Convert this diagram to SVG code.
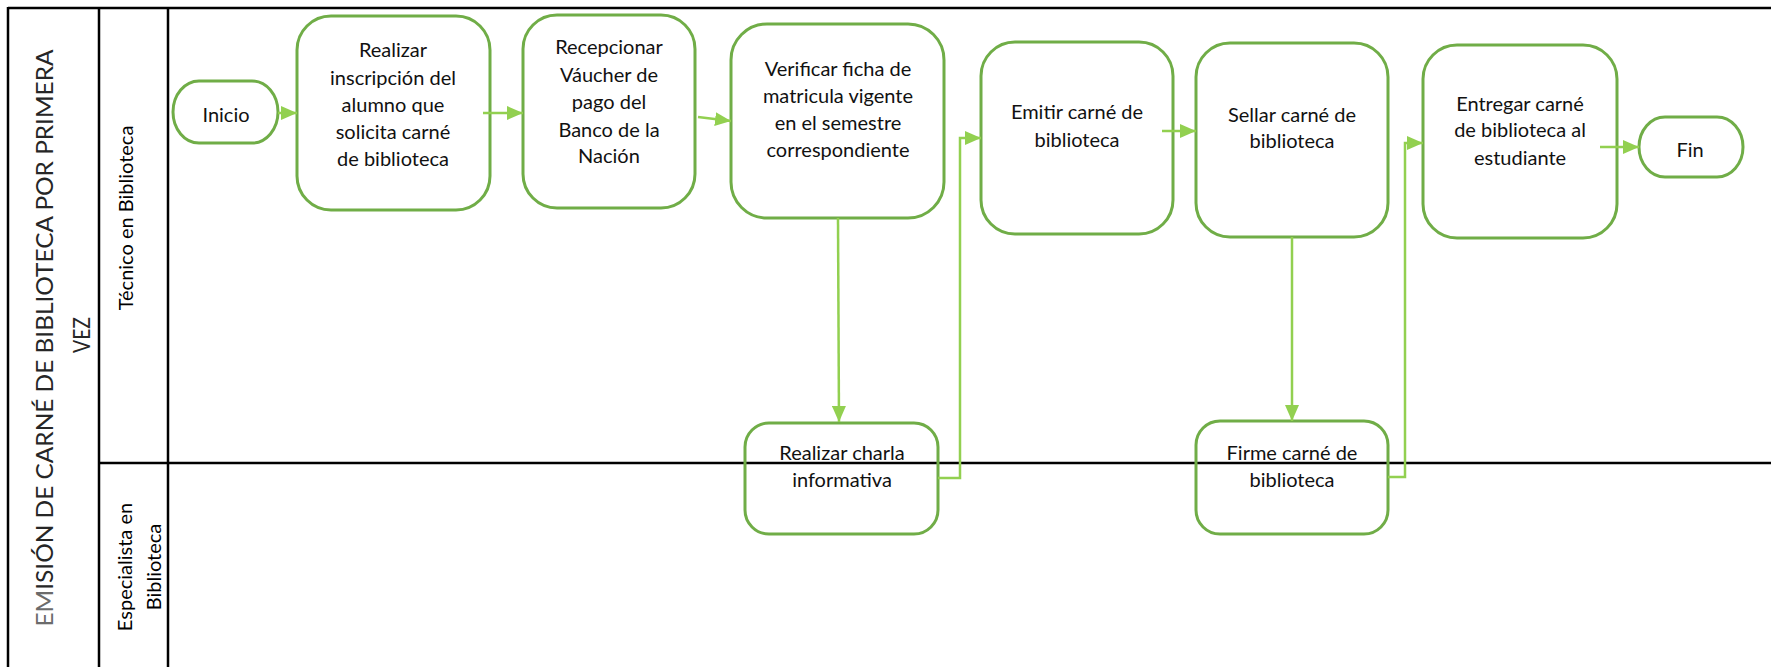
<svg xmlns="http://www.w3.org/2000/svg" width="1771" height="667" viewBox="0 0 1771 667">
<style>
.lane{stroke:#000;stroke-width:2.5;fill:none}
.box{fill:none;stroke:#70AD47;stroke-width:3}
.t{font-family:Lato,"Open Sans","Liberation Sans",sans-serif;font-size:20px;fill:#111;text-anchor:middle}
.lbl{font-family:Lato,"Open Sans","Liberation Sans",sans-serif;font-size:20px;fill:#000;text-anchor:middle}
.title{font-family:Lato,"Open Sans","Liberation Sans",sans-serif;font-size:24px;font-weight:400;fill:#262626;text-anchor:middle}
.c{fill:none;stroke:#92D050;stroke-width:2.5}
</style>
<defs>
<marker id="ah" viewBox="0 0 16 14" refX="16" refY="7" markerWidth="16" markerHeight="14" markerUnits="userSpaceOnUse" orient="auto">
<path d="M0,0 L16,7 L0,14 z" fill="#92D050"/>
</marker>
</defs>
<rect width="1771" height="667" fill="#fff"/>
<g id="pool">
<line class="lane" x1="8" y1="8" x2="1771" y2="8"/>
<line class="lane" x1="8" y1="7" x2="8" y2="667"/>
<line class="lane" x1="99" y1="8" x2="99" y2="667"/>
<line class="lane" x1="168" y1="8" x2="168" y2="667"/>
<line class="lane" x1="99" y1="463" x2="1771" y2="463"/>
<text class="title" transform="translate(53,338) rotate(-90)" textLength="577" lengthAdjust="spacingAndGlyphs"><tspan fill="#6b6b6b">EM</tspan>ISIÓN DE CARNÉ DE BIBLIOTECA POR PRIMERA</text>
<text class="title" transform="translate(90,335) rotate(-90)" textLength="36" lengthAdjust="spacingAndGlyphs">VEZ</text>
<text class="lbl" transform="translate(133,218) rotate(-90)">Técnico en Biblioteca</text>
<text class="lbl" transform="translate(132,567) rotate(-90)">Especialista en</text>
<text class="lbl" transform="translate(161,567) rotate(-90)">Biblioteca</text>
</g>
<g id="inicio">
<rect class="box" x="173" y="81" width="105" height="62" rx="26" ry="31"/>
<text class="t" x="226" y="122">Inicio</text>
</g>
<g id="inscripcion">
<rect class="box" x="297" y="16" width="193" height="194" rx="34"/>
<text class="t" x="393"><tspan x="393" y="57">Realizar</tspan><tspan x="393" y="85">inscripción del</tspan><tspan x="393" y="112">alumno que</tspan><tspan x="393" y="139">solicita carné</tspan><tspan x="393" y="166">de biblioteca</tspan></text>
</g>
<g id="recepcionar">
<rect class="box" x="523" y="15" width="172" height="193" rx="34"/>
<text class="t"><tspan x="609" y="54">Recepcionar</tspan><tspan x="609" y="82">Váucher de</tspan><tspan x="609" y="109">pago del</tspan><tspan x="609" y="137">Banco de la</tspan><tspan x="609" y="163">Nación</tspan></text>
</g>
<g id="verificar">
<rect class="box" x="731" y="24" width="213" height="194" rx="36"/>
<text class="t"><tspan x="838" y="76">Verificar ficha de</tspan><tspan x="838" y="103">matricula vigente</tspan><tspan x="838" y="130">en el semestre</tspan><tspan x="838" y="157">correspondiente</tspan></text>
</g>
<g id="emitir">
<rect class="box" x="981" y="42" width="192" height="192" rx="34"/>
<text class="t"><tspan x="1077" y="119">Emitir carné de</tspan><tspan x="1077" y="147">biblioteca</tspan></text>
</g>
<g id="sellar">
<rect class="box" x="1196" y="43" width="192" height="194" rx="34"/>
<text class="t"><tspan x="1292" y="122">Sellar carné de</tspan><tspan x="1292" y="148">biblioteca</tspan></text>
</g>
<g id="entregar">
<rect class="box" x="1423" y="45" width="194" height="193" rx="34"/>
<text class="t"><tspan x="1520" y="111">Entregar carné</tspan><tspan x="1520" y="137">de biblioteca al</tspan><tspan x="1520" y="165">estudiante</tspan></text>
</g>
<g id="fin">
<rect class="box" x="1639" y="117" width="104" height="60" rx="26" ry="30"/>
<text class="t" x="1690" y="157">Fin</text>
</g>
<g id="charla">
<rect class="box" x="745" y="423" width="193" height="111" rx="24"/>
<text class="t"><tspan x="842" y="460">Realizar charla</tspan><tspan x="842" y="487">informativa</tspan></text>
</g>
<g id="firme">
<rect class="box" x="1196" y="421" width="192" height="113" rx="24"/>
<text class="t"><tspan x="1292" y="460">Firme carné de</tspan><tspan x="1292" y="487">biblioteca</tspan></text>
</g>
<g id="connectors">
<path class="c" d="M278,113 L297,113" marker-end="url(#ah)"/>
<path class="c" d="M483,113 L523,113" marker-end="url(#ah)"/>
<path class="c" d="M698,117 L731,121" marker-end="url(#ah)"/>
<path class="c" d="M838,218 L839,422" marker-end="url(#ah)"/>
<path class="c" d="M938,478 L960,478 L960,138 L981,138" marker-end="url(#ah)"/>
<path class="c" d="M1162,131 L1196,131" marker-end="url(#ah)"/>
<path class="c" d="M1292,237 L1292,421" marker-end="url(#ah)"/>
<path class="c" d="M1388,477 L1405,477 L1405,143 L1423,143" marker-end="url(#ah)"/>
<path class="c" d="M1600,147 L1639,147" marker-end="url(#ah)"/>
</g>
</svg>
